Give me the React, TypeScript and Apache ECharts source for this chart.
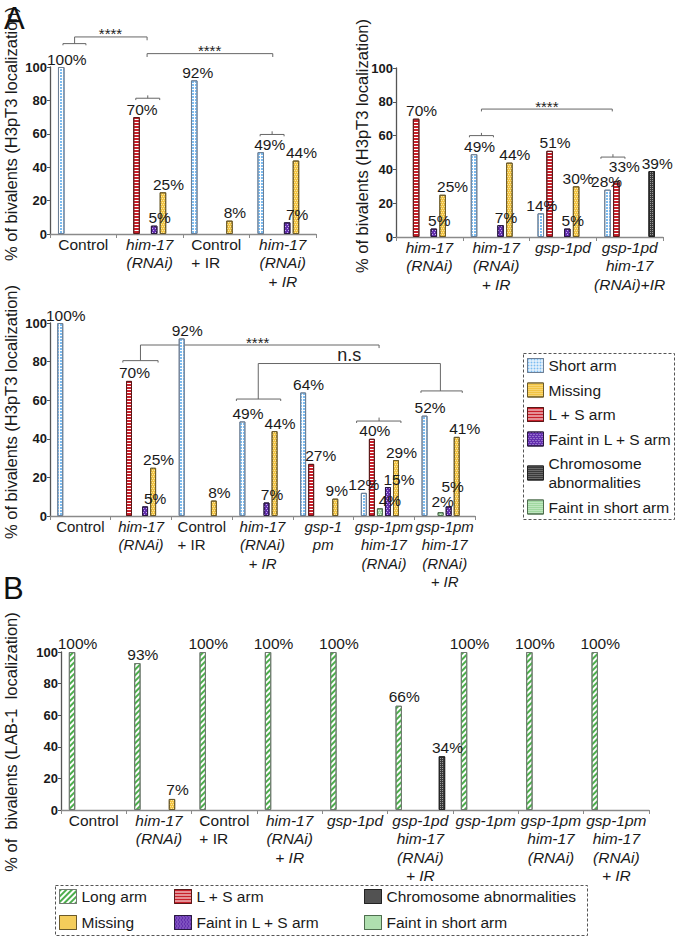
import React, { useEffect, useRef } from 'react';
import * as echarts from 'echarts';

const FONT = '"Liberation Sans", Arial, Helvetica, sans-serif';

// ---------- series names ----------
const SERIES_A = ['Short arm', 'L + S arm', 'Faint in short arm', 'Faint in L + S arm', 'Missing', 'Chromosome abnormalities'];
const SERIES_B = ['Long arm', 'L + S arm', 'Faint in short arm', 'Faint in L + S arm', 'Missing', 'Chromosome abnormalities'];

// ---------- panel A (top left) ----------
const catsA1 = ['Control', 'him-17\n(RNAi)', 'Control\n+ IR', 'him-17\n(RNAi)\n+ IR'];
const italA1 = [false, true, false, true];
const a1Short = [100, null, 92, 49];
const a1LS = [null, 70, null, null];
const a1FaintShort = [null, null, null, null];
const a1FaintLS = [null, 5, null, 7];
const a1Missing = [null, 25, 8, 44];
const a1Chrom = [null, null, null, null];

// ---------- panel A (top right) ----------
const catsA2 = ['him-17\n(RNAi)', 'him-17\n(RNAi)\n+ IR', 'gsp-1pd', 'gsp-1pd\nhim-17\n(RNAi)+IR'];
const italA2 = [true, true, true, true];
const a2Short = [null, 49, 14, 28];
const a2LS = [70, null, 51, 33];
const a2FaintShort = [null, null, null, null];
const a2FaintLS = [5, 7, 5, null];
const a2Missing = [25, 44, 30, null];
const a2Chrom = [null, null, null, 39];

// ---------- panel A (bottom) ----------
const catsA3 = ['Control', 'him-17\n(RNAi)', 'Control\n+ IR', 'him-17\n(RNAi)\n+ IR', 'gsp-1\npm', 'gsp-1pm\nhim-17\n(RNAi)', 'gsp-1pm\nhim-17\n(RNAi)\n+ IR'];
const italA3 = [false, true, false, true, true, true, true];
const a3Short = [100, null, 92, 49, 64, 12, 52];
const a3LS = [null, 70, null, null, 27, 40, null];
const a3FaintShort = [null, null, null, null, null, 4, 2];
const a3FaintLS = [null, 5, null, 7, null, 15, 5];
const a3Missing = [null, 25, 8, 44, 9, 29, 41];
const a3Chrom = [null, null, null, null, null, null, null];

// ---------- panel B ----------
const catsB = ['Control', 'him-17\n(RNAi)', 'Control\n+ IR', 'him-17\n(RNAi)\n+ IR', 'gsp-1pd', 'gsp-1pd\nhim-17\n(RNAi)\n+ IR', 'gsp-1pm', 'gsp-1pm\nhim-17\n(RNAi)', 'gsp-1pm\nhim-17\n(RNAi)\n+ IR'];
const italB = [false, true, false, true, true, true, true, true, true];
const bLong = [100, 93, 100, 100, 100, 66, 100, 100, 100];
const bLS = [null, null, null, null, null, null, null, null, null];
const bFaintShort = [null, null, null, null, null, null, null, null, null];
const bFaintLS = [null, null, null, null, null, null, null, null, null];
const bMissing = [null, 7, null, null, null, null, null, null, null];
const bChrom = [null, null, null, null, null, 34, null, null, null];

const Y_TITLE_A = '% of bivalents (H3pT3 localization)';
const Y_TITLE_B = '% of  bivalents (LAB-1  localization)';

const PANELS = [
  { cats: catsA1, ital: italA1, names: SERIES_A, values: [a1Short, a1LS, a1FaintShort, a1FaintLS, a1Missing, a1Chrom] },
  { cats: catsA2, ital: italA2, names: SERIES_A, values: [a2Short, a2LS, a2FaintShort, a2FaintLS, a2Missing, a2Chrom] },
  { cats: catsA3, ital: italA3, names: SERIES_A, values: [a3Short, a3LS, a3FaintShort, a3FaintLS, a3Missing, a3Chrom] },
  { cats: catsB, ital: italB, names: SERIES_B, values: [bLong, bLS, bFaintShort, bFaintLS, bMissing, bChrom] },
];

// ---------- layout / style ----------
const GRIDS = [
  { left: 50, top: 67, width: 266, height: 167 },
  { left: 396, top: 68, width: 267, height: 169 },
  { left: 50, top: 323, width: 425, height: 193 },
  { left: 61, top: 652, width: 588, height: 158 },
];
const X_LABEL_SIZE = [15.5, 15.5, 15, 15.5];

const STYLE: Record<string, any> = {
  'Short arm': { color: '#ffffff', borderColor: '#6d7f95', decal: { symbol: 'rect', symbolSize: 1, color: '#7dbcf0', dashArrayX: [2, 1], dashArrayY: [2, 1] } },
  'L + S arm': { color: '#ffffff', borderColor: '#5a1818', decal: { symbol: 'rect', symbolSize: 1, color: '#c8202b', dashArrayX: [1, 0], dashArrayY: [2, 1] } },
  'Faint in short arm': { color: '#9fd89f', borderColor: '#4e6e4e', decal: { symbol: 'rect', symbolSize: 1, color: '#dff3df', dashArrayX: [[1, 1], [0, 1, 1, 0]], dashArrayY: [1, 1] } },
  'Faint in L + S arm': { color: '#6430ae', borderColor: '#2a1a40', decal: { symbol: 'rect', symbolSize: 1, color: '#c6b0ec', dashArrayX: [[1, 2], [0, 2, 1, 0]], dashArrayY: [1, 1] } },
  'Missing': { color: '#f2c443', borderColor: '#6b5a2a', decal: { symbol: 'rect', symbolSize: 1, color: '#fbe6a4', dashArrayX: [[1, 1], [0, 1, 1, 0]], dashArrayY: [1, 1] } },
  'Chromosome abnormalities': { color: '#3a3a3a', borderColor: '#222222', decal: { symbol: 'rect', symbolSize: 1, color: '#9a9a9a', dashArrayX: [1, 1], dashArrayY: [1, 1] } },
  'Long arm': { color: '#ffffff', borderColor: '#707a70', decal: { symbol: 'rect', symbolSize: 1, color: '#4cae4c', dashArrayX: [1, 0], dashArrayY: [2, 2], rotation: -Math.PI / 4 } },
};

// label nudges (grid:series:category) -> [dx, dy]
const LABEL_NUDGE: Record<string, [number, number]> = {
  '0:0:3': [9, 0], '0:3:3': [10, 0], '0:0:2': [3.5, 0],
  '1:4:0': [10, 0], '1:0:2': [1, 0], '1:4:2': [2, 0], '1:0:3': [-1, 0], '1:1:3': [8, -7],
  '2:3:1': [10, 0], '2:1:4': [9.5, 0], '2:4:4': [1.5, 0], '2:0:5': [0, 0], '2:1:5': [3, 0],
  '2:2:5': [10, 0], '2:3:5': [11, 0], '2:2:6': [2, -3], '2:3:6': [4, -12], '2:4:6': [8, 0],
};
const DEFAULT_DX = 5.5;

// significance brackets, in (category-band position, value) units
const BRACKET_LINES: { g: number; pts: [number, number][] }[] = [
  { g: 0, pts: [[0.195, 113], [0.195, 114], [0.54, 114], [0.54, 113]] },
  { g: 0, pts: [[0.37, 114], [0.37, 118], [1.46, 118], [1.46, 116]] },
  { g: 0, pts: [[1.29, 80.2], [1.29, 81.3], [1.65, 81.3], [1.65, 80.2]] },
  { g: 0, pts: [[1.47, 81.3], [1.47, 83]] },
  { g: 0, pts: [[1.46, 106], [1.46, 108], [3.35, 108], [3.35, 106]] },
  { g: 0, pts: [[3.16, 58.5], [3.16, 59.6], [3.52, 59.6], [3.52, 58.5]] },
  { g: 0, pts: [[3.34, 59.6], [3.34, 61.5]] },
  { g: 1, pts: [[1.28, 74.3], [1.28, 75.7], [3.24, 75.7], [3.24, 74.3]] },
  { g: 1, pts: [[1.1, 59], [1.1, 60], [1.46, 60], [1.46, 59]] },
  { g: 1, pts: [[1.28, 60], [1.28, 61.6]] },
  { g: 1, pts: [[3.07, 46.3], [3.07, 47.3], [3.43, 47.3], [3.43, 46.3]] },
  { g: 1, pts: [[3.25, 47.3], [3.25, 49]] },
  { g: 2, pts: [[1.2, 79.5], [1.2, 80.5], [1.78, 80.5], [1.78, 79.5]] },
  { g: 2, pts: [[1.49, 80.5], [1.49, 88.6], [5.42, 88.6], [5.42, 87]] },
  { g: 2, pts: [[3.07, 59.6], [3.07, 60.6], [3.8, 60.6], [3.8, 59.6]] },
  { g: 2, pts: [[3.43, 60.6], [3.43, 79], [6.43, 79], [6.43, 64.8]] },
  { g: 2, pts: [[5.05, 48.2], [5.05, 49.2], [5.78, 49.2], [5.78, 48.2]] },
  { g: 2, pts: [[5.42, 49.2], [5.42, 51]] },
  { g: 2, pts: [[6.11, 63.8], [6.11, 64.8], [6.79, 64.8], [6.79, 63.8]] },
];
const BRACKET_TEXT = [
  { g: 0, pos: 0.91, v: 118, text: '****', dy: -3, size: 15 },
  { g: 0, pos: 2.4, v: 108, text: '****', dy: -3, size: 15 },
  { g: 1, pos: 2.26, v: 75.7, text: '****', dy: -3, size: 15 },
  { g: 2, pos: 3.42, v: 88.6, text: '****', dy: -3, size: 15 },
  { g: 2, pos: 4.93, v: 79, text: 'n.s', dy: -9, size: 18 },
];

function buildOption() {
  const xAxis = PANELS.map((p, g) => {
    const fs = X_LABEL_SIZE[g];
    const rich = {
      n: { fontSize: fs, fontStyle: 'normal', lineHeight: 18.5, align: 'left', color: '#1a1a1a', fontFamily: FONT },
      i: { fontSize: fs, fontStyle: 'italic', lineHeight: 18.5, align: 'center', color: '#1a1a1a', fontFamily: FONT },
    };
    return {
      type: 'category',
      gridIndex: g,
      data: p.cats,
      axisLine: { show: true, lineStyle: { color: '#8a8a8a', width: 1.3 } },
      axisTick: { show: true, length: 4, interval: 0, lineStyle: { color: '#8a8a8a' } },
      axisLabel: {
        interval: 0,
        margin: 1,
        rich,
        formatter: (v: string) => {
          const it = p.ital[p.cats.indexOf(v)];
          return v.split('\n').map((l) => `{${it ? 'i' : 'n'}|${l}}`).join('\n');
        },
      },
      splitLine: { show: false },
    };
  });
  const yAxis = PANELS.map((_, g) => ({
    type: 'value',
    gridIndex: g,
    min: 0,
    max: 100,
    interval: 20,
    axisLine: { show: true, lineStyle: { color: '#555', width: 1.3 } },
    axisTick: { show: true, length: 3, lineStyle: { color: '#555' } },
    axisLabel: { fontSize: 13, fontWeight: 'bold', color: '#1a1a1a', margin: 3, fontFamily: FONT },
    splitLine: { show: false },
  }));
  const series: any[] = [];
  PANELS.forEach((p, g) => {
    p.names.forEach((name, s) => {
      const st = STYLE[name];
      series.push({
        type: 'bar',
        name,
        xAxisIndex: g,
        yAxisIndex: g,
        barGap: '35%',
        barCategoryGap: '24%',
        itemStyle: { color: st.color, borderColor: st.borderColor, borderWidth: 1, decal: st.decal },
        label: {
          show: true,
          position: 'top',
          distance: g === 3 ? 1 : 0,
          formatter: '{c}%',
          fontSize: 15.5,
          color: '#1a1a1a',
          fontFamily: FONT,
        },
        data: p.values[s].map((v, c) => {
          if (v == null) return null;
          const n = LABEL_NUDGE[`${g}:${s}:${c}`] || [DEFAULT_DX, 0];
          return { value: v, label: { offset: n } };
        }),
      });
    });
  });

  const legendCommon = {
    orient: 'vertical',
    icon: 'rect',
    selectedMode: false,
    padding: 0,
    itemStyle: { borderWidth: 1 },
    textStyle: { fontSize: 15.5, color: '#1a1a1a', lineHeight: 19, fontFamily: FONT },
  };
  const legend = [
    {
      ...legendCommon,
      left: 527,
      top: 356,
      itemWidth: 16,
      itemHeight: 14,
      itemGap: 5.5,
      data: ['Short arm', 'Missing', 'L + S arm', 'Faint in L + S arm', 'Chromosome abnormalities', 'Faint in short arm'],
      formatter: (n: string) => (n === 'Chromosome abnormalities' ? 'Chromosome\nabnormalities' : n),
    },
    { ...legendCommon, left: 59, top: 887, itemWidth: 17, itemHeight: 14, itemGap: 7, data: ['Long arm', 'Missing'] },
    { ...legendCommon, left: 174, top: 887, itemWidth: 17, itemHeight: 14, itemGap: 7, data: ['L + S arm', 'Faint in L + S arm'] },
    { ...legendCommon, left: 364, top: 887, itemWidth: 17, itemHeight: 14, itemGap: 7, data: ['Chromosome abnormalities', 'Faint in short arm'] },
  ];

  return {
    animation: false,
    backgroundColor: '#ffffff',
    textStyle: { fontFamily: FONT },
    grid: GRIDS.map((gr) => ({ ...gr, containLabel: false })),
    xAxis,
    yAxis,
    series,
    legend,
  };
}

function buildGraphics(chart: any) {
  const toPx = (g: number, pos: number, v: number): [number, number] => {
    let p0 = chart.convertToPixel({ gridIndex: g }, [0, 0]);
    let p1 = chart.convertToPixel({ gridIndex: g }, [1, 100]);
    const gr = GRIDS[g];
    const n = PANELS[g].cats.length;
    if (!p0 || !p1) {
      const bw0 = gr.width / n;
      p0 = [gr.left + bw0 / 2, gr.top + gr.height];
      p1 = [gr.left + bw0 * 1.5, gr.top];
    }
    const bw = p1[0] - p0[0];
    return [p0[0] - bw / 2 + pos * bw, p0[1] + ((p1[1] - p0[1]) * v) / 100];
  };
  const els: any[] = [];
  BRACKET_LINES.forEach((b) => {
    els.push({
      type: 'polyline',
      shape: { points: b.pts.map(([pos, v]) => toPx(b.g, pos, v)) },
      style: { stroke: '#666', lineWidth: 1, fill: null },
      silent: true,
    });
  });
  BRACKET_TEXT.forEach((t) => {
    const [x, y] = toPx(t.g, t.pos, t.v);
    els.push({
      type: 'text',
      x,
      y: y + t.dy,
      style: { text: t.text, fontSize: t.size, fontFamily: FONT, fill: '#222', align: 'center', verticalAlign: 'middle' },
      silent: true,
    });
  });
  // y-axis titles
  const yTitles = [
    { x: 11, y: 134, text: Y_TITLE_A },
    { x: 362, y: 146, text: Y_TITLE_A },
    { x: 11, y: 412, text: Y_TITLE_A },
    { x: 11, y: 742, text: Y_TITLE_B },
  ];
  yTitles.forEach((t) => {
    els.push({
      type: 'text',
      x: t.x,
      y: t.y,
      rotation: Math.PI / 2,
      style: { text: t.text, fontSize: 16.5, fontFamily: FONT, fill: '#1a1a1a', align: 'center', verticalAlign: 'middle' },
      silent: true,
    });
  });
  // panel letters
  els.push({ type: 'text', x: 4, y: 3, style: { text: 'A', fontSize: 31, fontFamily: FONT, fill: '#111', align: 'left', verticalAlign: 'top' }, silent: true });
  els.push({ type: 'text', x: 3, y: 573, style: { text: 'B', fontSize: 31, fontFamily: FONT, fill: '#111', align: 'left', verticalAlign: 'top' }, silent: true });
  // legend boxes
  els.push({ type: 'rect', shape: { x: 523.5, y: 353.5, width: 151, height: 166 }, style: { fill: null, stroke: '#555', lineWidth: 1, lineDash: [3, 2] }, silent: true });
  els.push({ type: 'rect', shape: { x: 55.5, y: 885.5, width: 532, height: 50 }, style: { fill: null, stroke: '#555', lineWidth: 1, lineDash: [3, 2] }, silent: true });
  return els;
}

export default function App() {
  const ref = useRef<HTMLDivElement>(null);
  useEffect(() => {
    document.body.style.margin = '0';
    const chart = echarts.init(ref.current as HTMLDivElement, null, { renderer: 'svg' });
    chart.setOption(buildOption() as any);
    chart.setOption({ graphic: buildGraphics(chart) } as any);
    return () => chart.dispose();
  }, []);
  return <div ref={ref} style={{ width: 677, height: 937, background: '#ffffff' }} />;
}
